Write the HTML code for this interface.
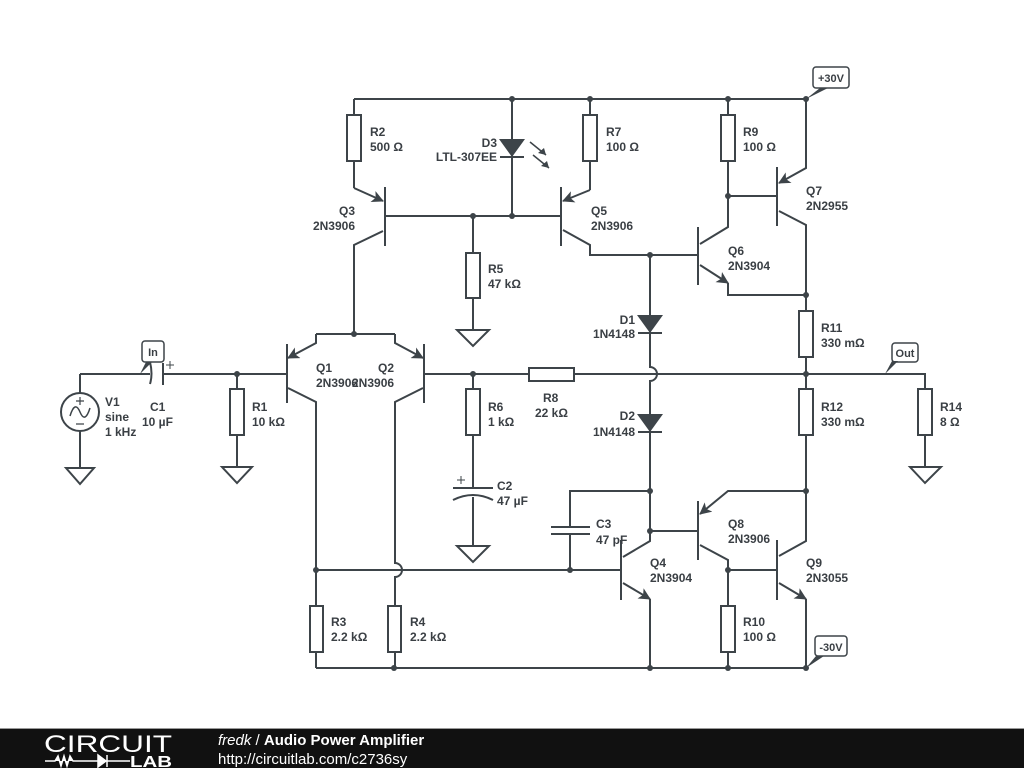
<!DOCTYPE html>
<html><head><meta charset="utf-8"><style>
html,body{margin:0;padding:0;background:#fff;width:1024px;height:768px;overflow:hidden}
svg text{font-family:"Liberation Sans",Arial,sans-serif;font-size:12px;font-weight:bold;fill:#3a3f44}
</style></head><body>
<svg width="1024" height="768" viewBox="0 0 1024 768" xmlns="http://www.w3.org/2000/svg">
<defs>
<marker id="ar" markerWidth="12" markerHeight="12" refX="11" refY="6" orient="auto" markerUnits="userSpaceOnUse">
<path d="M0,0 L12,6 L0,12 L3,6 z" fill="#3d4449"/></marker>
</defs>
<g stroke="#3d4449" stroke-width="2" fill="none">
<path d="M354,99 H806"/>
<path d="M354,99 V115 M354,161 V188"/>
<rect x="347" y="115" width="14" height="46" fill="#fff"/>
<path d="M354,188 L383,201" marker-end="url(#ar)"/>
<path d="M385,187 V246"/>
<path d="M385,216 H561"/>
<path d="M383,231 L354,245 V334"/>
<path d="M512,99 V216"/>
<path d="M500,157 H524"/>
<path d="M473,216 V253 M473,298 V330"/>
<rect x="466" y="253" width="14" height="45" fill="#fff"/>
<path d="M457,330 H489 L473,346 Z"/>
<path d="M590,99 V115 M590,161 V190"/>
<rect x="583" y="115" width="14" height="46" fill="#fff"/>
<path d="M590,190 L563,201" marker-end="url(#ar)"/>
<path d="M561,187 V246"/>
<path d="M563,230 L590,245 V255 H698"/>
<path d="M698,227 V285"/>
<path d="M700,244 L728,227 V196"/>
<path d="M700,265 L728,283" marker-end="url(#ar)"/>
<path d="M728,283 V295 H806"/>
<path d="M728,99 V115 M728,161 V196 H777"/>
<rect x="721" y="115" width="14" height="46" fill="#fff"/>
<path d="M777,167 V226"/>
<path d="M806,99 V168 L779,183" marker-end="url(#ar)"/>
<path d="M779,211 L806,225 V311"/>
<rect x="799" y="311" width="14" height="46" fill="#fff"/>
<path d="M806,357 V389"/>
<rect x="799" y="389" width="14" height="46" fill="#fff"/>
<path d="M806,435 V541 L779,556"/>
<path d="M806,491 H728 L700,514" marker-end="url(#ar)"/>
<path d="M650,255 V367 A7,7 0 0 1 650,381 V531"/>
<path d="M638,333 H662 M638,432 H662"/>
<path d="M424,374 H529 M574,374 H925 V389 M925,435 V467"/>
<rect x="529" y="368" width="45" height="13" fill="#fff"/>
<rect x="918" y="389" width="14" height="46" fill="#fff"/>
<path d="M910,467 H941 L925,483 Z"/>
<path d="M698,501 V560"/>
<path d="M650,531 H698"/>
<path d="M700,545 L728,560 V606 M728,652 V668"/>
<rect x="721" y="606" width="14" height="46" fill="#fff"/>
<path d="M728,570 H777 M777,540 V600"/>
<path d="M779,583 L806,599" marker-end="url(#ar)"/>
<path d="M806,599 V668"/>
<path d="M621,540 V600"/>
<path d="M623,557 L650,541 V531"/>
<path d="M623,583 L650,599" marker-end="url(#ar)"/>
<path d="M650,599 V668"/>
<path d="M650,491 H570 V527 M570,534 V570"/>
<path d="M551,527 H590 M551,534 H590"/>
<path d="M316,570 H621"/>
<path d="M316,668 H806"/>
<path d="M316,334 H395"/>
<path d="M316,334 V343 L288,358" marker-end="url(#ar)"/>
<path d="M395,334 V343 L423,358" marker-end="url(#ar)"/>
<path d="M287,344 V403 M424,344 V403"/>
<path d="M288,388 L316,402 V606 M316,652 V668"/>
<rect x="310" y="606" width="13" height="46" fill="#fff"/>
<path d="M423,388 L395,402 V563 A7,7 0 0 1 395,577 V606 M395,652 V668"/>
<rect x="388" y="606" width="13" height="46" fill="#fff"/>
<path d="M473,374 V389 M473,435 V488 M473,497 V546"/>
<rect x="466" y="389" width="14" height="46" fill="#fff"/>
<path d="M453,488 H493"/>
<path d="M453,500 Q473,490 493,500"/>
<path d="M457,546 H489 L473,562 Z"/>
<path d="M80,374 H150 M163,374 H287"/>
<path d="M163,363 V385"/>
<path d="M150,384 Q153,374 150,362"/>
<path d="M80,374 V393 M80,431 V468"/>
<circle cx="80" cy="412" r="19"/>
<path d="M70,416 Q75,400 80,412 Q85,424 90,408" stroke-width="1.5"/>
<path d="M66,468 H94 L80,484 Z"/>
<path d="M237,374 V389 M237,435 V467"/>
<rect x="230" y="389" width="14" height="46" fill="#fff"/>
<path d="M222,467 H252 L237,483 Z"/>
<path d="M76,401 H84 M80,397 V405 M76,424 H84" stroke-width="1.2"/>
<path d="M166,365 H174 M170,361 V369" stroke-width="1"/>
<path d="M457,480 H465 M461,476 V484" stroke-width="1"/>
<path d="M530,142 L546,155 M533,155 L549,168" stroke-width="1.5"/>
<rect x="813" y="67" width="36" height="21" rx="3" stroke-width="1.5" fill="#fff"/>
<rect x="142" y="341" width="22" height="21" rx="3" stroke-width="1.5" fill="#fff"/>
<rect x="892" y="343" width="26" height="19" rx="3" stroke-width="1.5" fill="#fff"/>
<rect x="815" y="636" width="32" height="20" rx="3" stroke-width="1.5" fill="#fff"/>
</g>
<g fill="#3d4449">
<path d="M499,139 H525 L512,157 Z"/>
<path d="M637,315 H663 L650,333 Z"/>
<path d="M637,414 H663 L650,432 Z"/>
<path d="M546,155 L538,153 L544,148 Z M549,168 L541,166 L547,161 Z"/>
<path d="M806,99 L820,88 L828,88 Z"/>
<path d="M140,374 L146,362 L152,362 Z"/>
<path d="M885,374 L892,361 L898,361 Z"/>
<path d="M806,668 L816,656 L824,656 Z"/>
<circle cx="512" cy="99" r="3"/><circle cx="590" cy="99" r="3"/><circle cx="728" cy="99" r="3"/><circle cx="806" cy="99" r="3"/>
<circle cx="473" cy="216" r="3"/><circle cx="512" cy="216" r="3"/><circle cx="650" cy="255" r="3"/>
<circle cx="728" cy="196" r="3"/><circle cx="806" cy="295" r="3"/><circle cx="354" cy="334" r="3"/>
<circle cx="473" cy="374" r="3"/><circle cx="806" cy="374" r="3"/><circle cx="237" cy="374" r="3"/>
<circle cx="650" cy="491" r="3"/><circle cx="806" cy="491" r="3"/><circle cx="650" cy="531" r="3"/>
<circle cx="728" cy="570" r="3"/><circle cx="316" cy="570" r="3"/><circle cx="570" cy="570" r="3"/>
<circle cx="394" cy="668" r="3"/><circle cx="650" cy="668" r="3"/><circle cx="728" cy="668" r="3"/><circle cx="806" cy="668" r="3"/>
</g>
<g>
<text x="370" y="136">R2</text><text x="370" y="151">500 Ω</text>
<text x="355" y="215" text-anchor="end">Q3</text><text x="355" y="230" text-anchor="end">2N3906</text>
<text x="497" y="147" text-anchor="end">D3</text><text x="497" y="161" text-anchor="end">LTL-307EE</text>
<text x="606" y="136">R7</text><text x="606" y="151">100 Ω</text>
<text x="591" y="215">Q5</text><text x="591" y="230">2N3906</text>
<text x="488" y="273">R5</text><text x="488" y="288">47 kΩ</text>
<text x="743" y="136">R9</text><text x="743" y="151">100 Ω</text>
<text x="806" y="195">Q7</text><text x="806" y="210">2N2955</text>
<text x="728" y="255">Q6</text><text x="728" y="270">2N3904</text>
<text x="635" y="324" text-anchor="end">D1</text><text x="635" y="338" text-anchor="end">1N4148</text>
<text x="821" y="332">R11</text><text x="821" y="347">330 mΩ</text>
<text x="316" y="372">Q1</text><text x="316" y="387">2N3906</text>
<text x="378" y="372">Q2</text><text x="352" y="387">2N3906</text>
<text x="543" y="402">R8</text><text x="535" y="417">22 kΩ</text>
<text x="488" y="411">R6</text><text x="488" y="426">1 kΩ</text>
<text x="635" y="420" text-anchor="end">D2</text><text x="635" y="436" text-anchor="end">1N4148</text>
<text x="821" y="411">R12</text><text x="821" y="426">330 mΩ</text>
<text x="940" y="411">R14</text><text x="940" y="426">8 Ω</text>
<text x="105" y="406">V1</text><text x="105" y="421">sine</text><text x="105" y="436">1 kHz</text>
<text x="150" y="411">C1</text><text x="142" y="426">10 µF</text>
<text x="252" y="411">R1</text><text x="252" y="426">10 kΩ</text>
<text x="497" y="490">C2</text><text x="497" y="505">47 µF</text>
<text x="596" y="528">C3</text><text x="596" y="544">47 pF</text>
<text x="728" y="528">Q8</text><text x="728" y="543">2N3906</text>
<text x="650" y="567">Q4</text><text x="650" y="582">2N3904</text>
<text x="806" y="567">Q9</text><text x="806" y="582">2N3055</text>
<text x="331" y="626">R3</text><text x="331" y="641">2.2 kΩ</text>
<text x="410" y="626">R4</text><text x="410" y="641">2.2 kΩ</text>
<text x="743" y="626">R10</text><text x="743" y="641">100 Ω</text>
<text x="831" y="82" text-anchor="middle" style="font-size:11px">+30V</text>
<text x="153" y="356" text-anchor="middle" style="font-size:11px">In</text>
<text x="905" y="357" text-anchor="middle" style="font-size:11px">Out</text>
<text x="831" y="651" text-anchor="middle" style="font-size:11px">-30V</text>
</g>
<rect x="0" y="729" width="1024" height="39" fill="#111"/>
<rect x="0" y="728" width="1024" height="1" fill="#999"/>
<text x="44" y="752" textLength="128" lengthAdjust="spacingAndGlyphs" style="font-size:24px;font-weight:normal;fill:#fff">CIRCUIT</text>
<path d="M45,761 H55 L58,756 L61,766 L64,756 L67,766 L70,756 L73,761 H98 M98,755 V767 L106,761 Z M107,755 V767 M107,761 H130" stroke="#fff" stroke-width="1.5" fill="#fff"/>
<text x="130" y="767" textLength="42" lengthAdjust="spacingAndGlyphs" style="font-size:16px;font-weight:bold;fill:#fff">LAB</text>
<text x="218" y="745" style="font-size:15px;fill:#fff"><tspan style="font-style:italic;font-weight:normal">fredk</tspan><tspan style="font-weight:normal"> / </tspan>Audio Power Amplifier</text>
<text x="218" y="764" style="font-size:15px;font-weight:normal;fill:#fff">http://circuitlab.com/c2736sy</text>
</svg>
</body></html>
